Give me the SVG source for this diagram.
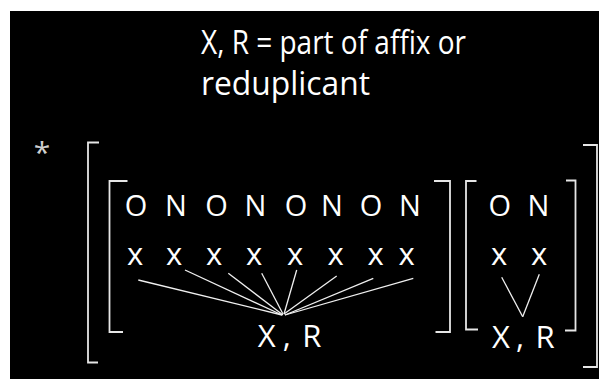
<svg xmlns="http://www.w3.org/2000/svg" width="599" height="379" viewBox="0 0 599 379">
<style>
.t{font-family:"Open Sans","DejaVu Sans",sans-serif;fill:#fff}
.br{fill:none;stroke:#e6e6e6;stroke-width:1.8}
.ln{stroke:#f0f0f0;stroke-width:1.3;fill:none}
</style>
<rect x="0" y="0" width="599" height="379" fill="#fff"/>
<rect x="10" y="11" width="589" height="368" fill="#000"/>
<g id="legend">
<text class="t" x="201" y="54" font-size="32" textLength="265" lengthAdjust="spacingAndGlyphs">X, R = part of affix or</text>
<text class="t" x="201" y="95" font-size="32" textLength="169" lengthAdjust="spacingAndGlyphs">reduplicant</text>
</g>
<g id="star">
<text class="t" x="42" y="163" font-size="30" text-anchor="middle" style="fill:#cfcfcf">*</text>
</g>
<g id="outer-brackets">
<path class="br" d="M99,142.5 H88 V362.5 H98"/>
<path class="br" d="M583,145 H597 V367 H583"/>
</g>
<g id="group1">
<path class="br" d="M127.5,181 H109.5 V332 H123"/>
<path class="br" d="M434,181 H450 V332 H435.5"/>
<text class="t" font-size="29" text-anchor="middle" x="136 156 176 196 216.5 236 255.5 276 296 314 332 351 371 390 410" y="215.5">O N O N O N O N</text>
<text class="t" font-size="31" text-anchor="middle" x="135 155 174 194 214 234 254 274 295 315 335.6 355 375.6 391 406.7" y="265">x x x x x x x x</text>
<text class="t" font-size="31" text-anchor="middle" x="266.7 277 286.7 299 311.7" y="346.5">X , R</text>
</g>
<g id="group2">
<path class="br" d="M476.5,181 H466 V329.5 H478"/>
<path class="br" d="M566,180.5 H575.5 V330.5 H565"/>
<text class="t" font-size="29" text-anchor="middle" x="499.7 519 538.5" y="215.5">O N</text>
<text class="t" font-size="31" text-anchor="middle" x="499 519 539" y="265">x x</text>
<text class="t" font-size="31" text-anchor="middle" x="501 512 520 532 545" y="347.5">X , R</text>
</g>
<g id="connectors">
<line class="ln" x1="138.3" y1="280" x2="282" y2="315"/>
<line class="ln" x1="185" y1="270" x2="282" y2="315"/>
<line class="ln" x1="228.3" y1="273.3" x2="283" y2="315"/>
<line class="ln" x1="261.7" y1="273.3" x2="283" y2="314"/>
<line class="ln" x1="296.7" y1="270" x2="284" y2="314"/>
<line class="ln" x1="336.7" y1="276" x2="284" y2="314"/>
<line class="ln" x1="373.3" y1="278.3" x2="285" y2="315"/>
<line class="ln" x1="413.3" y1="278.3" x2="285" y2="315"/>
<line class="ln" x1="501.7" y1="277.3" x2="522.7" y2="316.7"/>
<line class="ln" x1="539.3" y1="274.3" x2="522.7" y2="316.7"/>
</g>
</svg>
